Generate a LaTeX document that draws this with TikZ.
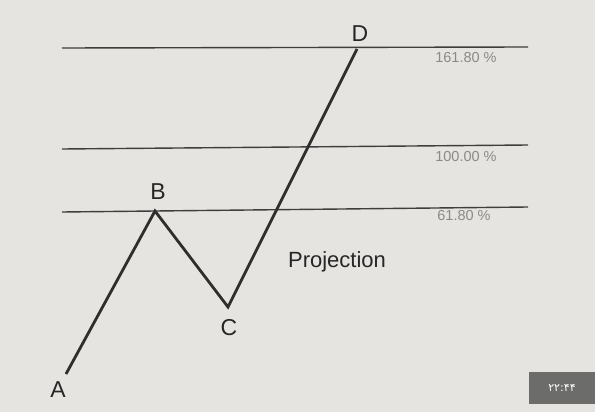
\documentclass[tikz,border=0pt]{standalone}
\usepackage{fontspec}
\setmainfont{Liberation Sans}
\newfontfamily\pfont{DejaVu Sans}
\definecolor{paper}{HTML}{E6E4E0}
\definecolor{levelline}{HTML}{3E3E3C}
\definecolor{pctgray}{HTML}{8A8A88}
\definecolor{stampbg}{HTML}{6C6C6A}
\begin{document}
\begin{tikzpicture}[x=1pt,y=-1pt,
  level/.style={draw=levelline,line width=1.4pt},
  wave/.style={draw=black!82,line width=2.8pt,line join=miter,line cap=butt},
  ptlabel/.style={font=\fontsize{23}{25}\selectfont,text=black!85,inner sep=0pt},
  pct/.style={font=\fontsize{14.5}{16}\selectfont,text=pctgray,inner sep=0pt}]
\fill[paper] (0,0) rectangle (595,412);
\useasboundingbox (0,0) rectangle (595,412);
% level lines
\coordinate (L1a) at (62,48);  \coordinate (L1b) at (528,47);
\coordinate (L2a) at (62,149); \coordinate (L2b) at (528,145);
\coordinate (L3a) at (62,212); \coordinate (L3b) at (528,207);
\draw[level] (L1a) -- (L1b);
\draw[level] (L2a) -- (L2b);
\draw[level] (L3a) -- (L3b);
\node[pct] (p1) at (466,58) {161.80 \%};
\node[pct] (p2) at (466,157) {100.00 \%};
\node[pct] (p3) at (464,216) {61.80 \%};
% wave
\coordinate (A) at (66,374);
\coordinate (B) at (155,211);
\coordinate (C) at (228,307);
\coordinate (D) at (357,49);
\draw[wave] (A) -- (B) -- (C) -- (D);
\node[ptlabel] (la) at (58,390) {A};
\node[ptlabel] (lb) at (158,192) {B};
\node[ptlabel] (lc) at (229,328) {C};
\node[ptlabel] (ld) at (360,34) {D};
\node[font=\fontsize{22}{24}\selectfont,text=black!85,inner sep=0pt] (proj) at (337,262) {Projection};
% timestamp
\fill[stampbg] (529,372) rectangle (595,404);
\node[font=\pfont\fontsize{11}{12}\selectfont,text=white,inner sep=0pt] (ts) at (562,388) {۲۲:۴۴};
\end{tikzpicture}
\end{document}
